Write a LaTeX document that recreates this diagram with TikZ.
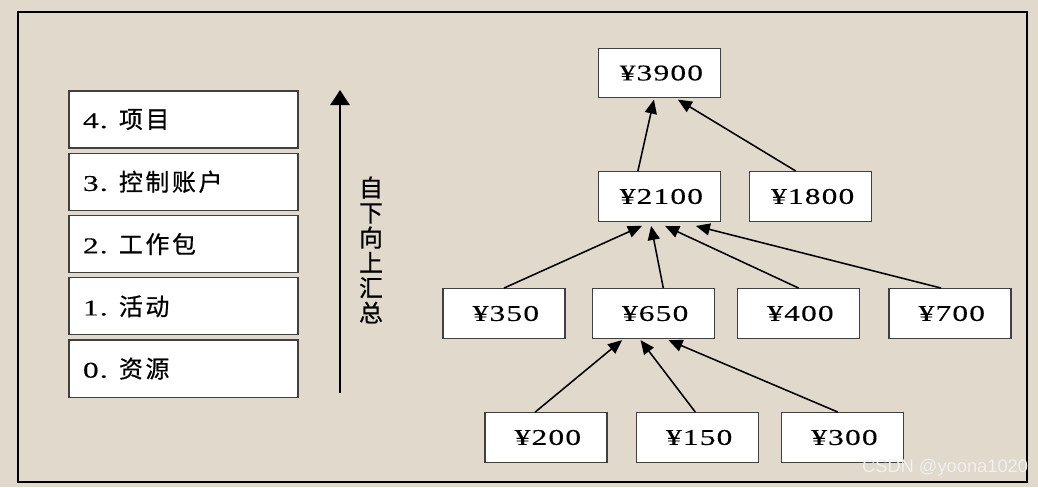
\documentclass[tikz,border=0pt]{standalone}
\usepackage{fontspec}
\setmainfont{Liberation Serif}
\newfontfamily\numfont[FakeStretch=1.4, LetterSpace=5, FakeBold=0.25]{Liberation Serif}
\newfontfamily\cjk[LetterSpace=11, FakeBold=0.6]{Noto Sans CJK SC}
\newfontfamily\marksans{Liberation Sans}
\newcommand\zhtext[1]{{\fontsize{17}{20}\selectfont\cjk #1}}
\definecolor{paperBg}{RGB}{224,217,204}
\definecolor{boxLine}{RGB}{64,64,64}
\usetikzlibrary{arrows.meta,positioning}

\begin{document}
\begin{tikzpicture}[x=0.025cm, y=-0.025cm,
  lvl/.style={draw=boxLine, line width=0.9pt, fill=white, minimum height=1.425cm,
              text width=5.025cm, inner xsep=0.35cm, inner ysep=0pt, align=left,
              font=\fontsize{16}{20}\selectfont\numfont},
  cost/.style={draw=boxLine, line width=0.9pt, fill=white, minimum width=3.05cm,
               minimum height=1.24cm, inner sep=0pt, font=\fontsize{16}{20}\selectfont\numfont},
  up/.style={-{Triangle[length=0.35cm, width=0.3cm]}, line width=1.1pt}
]
  \useasboundingbox (0,0) rectangle (1038,487);
  \fill[paperBg] (0,0) rectangle (1038,487);
  \draw[line width=1.5pt] (18,12) rectangle (1027,482);

  % levels
  \node[lvl]                    (l4) at (183.5,119.5) {4.\enspace\zhtext{项目}};
  \node[lvl, below=0.1cm of l4] (l3) {3.\enspace\zhtext{控制账户}};
  \node[lvl, below=0.1cm of l3] (l2) {2.\enspace\zhtext{工作包}};
  \node[lvl, below=0.1cm of l2] (l1) {1.\enspace\zhtext{活动}};
  \node[lvl, below=0.1cm of l1] (l0) {0.\enspace\zhtext{资源}};

  % roll-up arrow
  \coordinate (sumbot) at (340,393);
  \coordinate (sumtop) at (340,90);
  \draw[-{Triangle[length=0.38cm, width=0.48cm]}, line width=2pt] (sumbot) -- (sumtop);
  \node[font=\fontsize{17}{17.8}\selectfont\cjk, align=center] (sumtxt) at (371,250)
    {自\\下\\向\\上\\汇\\总};

  % cost tree
  \node[cost]                       (c3900) at (659.5,73) {\,¥3900};
  \node[cost]                       (c2100) at (659.5,196.5) {\,¥2100};
  \node[cost, right=0.7cm of c2100] (c1800) {\,¥1800};

  \node[cost]                       (c350) at (504,313.5) {\,¥350};
  \node[cost, right=0.65cm of c350] (c650) {\,¥650};
  \node[cost, right=0.55cm of c650] (c400) {\,¥400};
  \node[cost, right=0.7cm of c400]  (c700) {\,¥700};

  \node[cost]                       (c200) at (546,437.5) {\,¥200};
  \node[cost, right=0.7cm of c200]  (c150) {\,¥150};
  \node[cost, right=0.55cm of c150] (c300) {\,¥300};

  \draw[up] ([xshift=-0.54cm]c2100.north) -- ([xshift=-0.14cm,yshift=-0.03cm]c3900.south);
  \draw[up] ([xshift=-0.375cm]c1800.north) -- ([xshift=0.46cm,yshift=-0.03cm]c3900.south);

  \draw[up] (c350.north) -- ([xshift=-0.44cm,yshift=-0.1cm]c2100.south);
  \draw[up] ([xshift=0.25cm]c650.north) -- ([xshift=-0.21cm,yshift=-0.1cm]c2100.south);
  \draw[up] (c400.north) -- ([xshift=0.14cm,yshift=-0.1cm]c2100.south);
  \draw[up] ([xshift=-0.22cm]c700.north) -- ([xshift=0.91cm,yshift=-0.1cm]c2100.south);

  \draw[up] ([xshift=-0.27cm]c200.north) -- ([xshift=-0.78cm,yshift=-0.03cm]c650.south);
  \draw[up] ([xshift=-0.05cm]c150.north) -- ([xshift=-0.32cm,yshift=-0.03cm]c650.south);
  \draw[up] ([xshift=-0.12cm]c300.north) -- ([xshift=0.38cm,yshift=-0.03cm]c650.south);

  \node[font=\fontsize{13}{13}\selectfont\marksans, text=white!88!gray, anchor=east]
    (mark) at (1033,468) {CSDN @yoona1020};
\end{tikzpicture}
\end{document}
